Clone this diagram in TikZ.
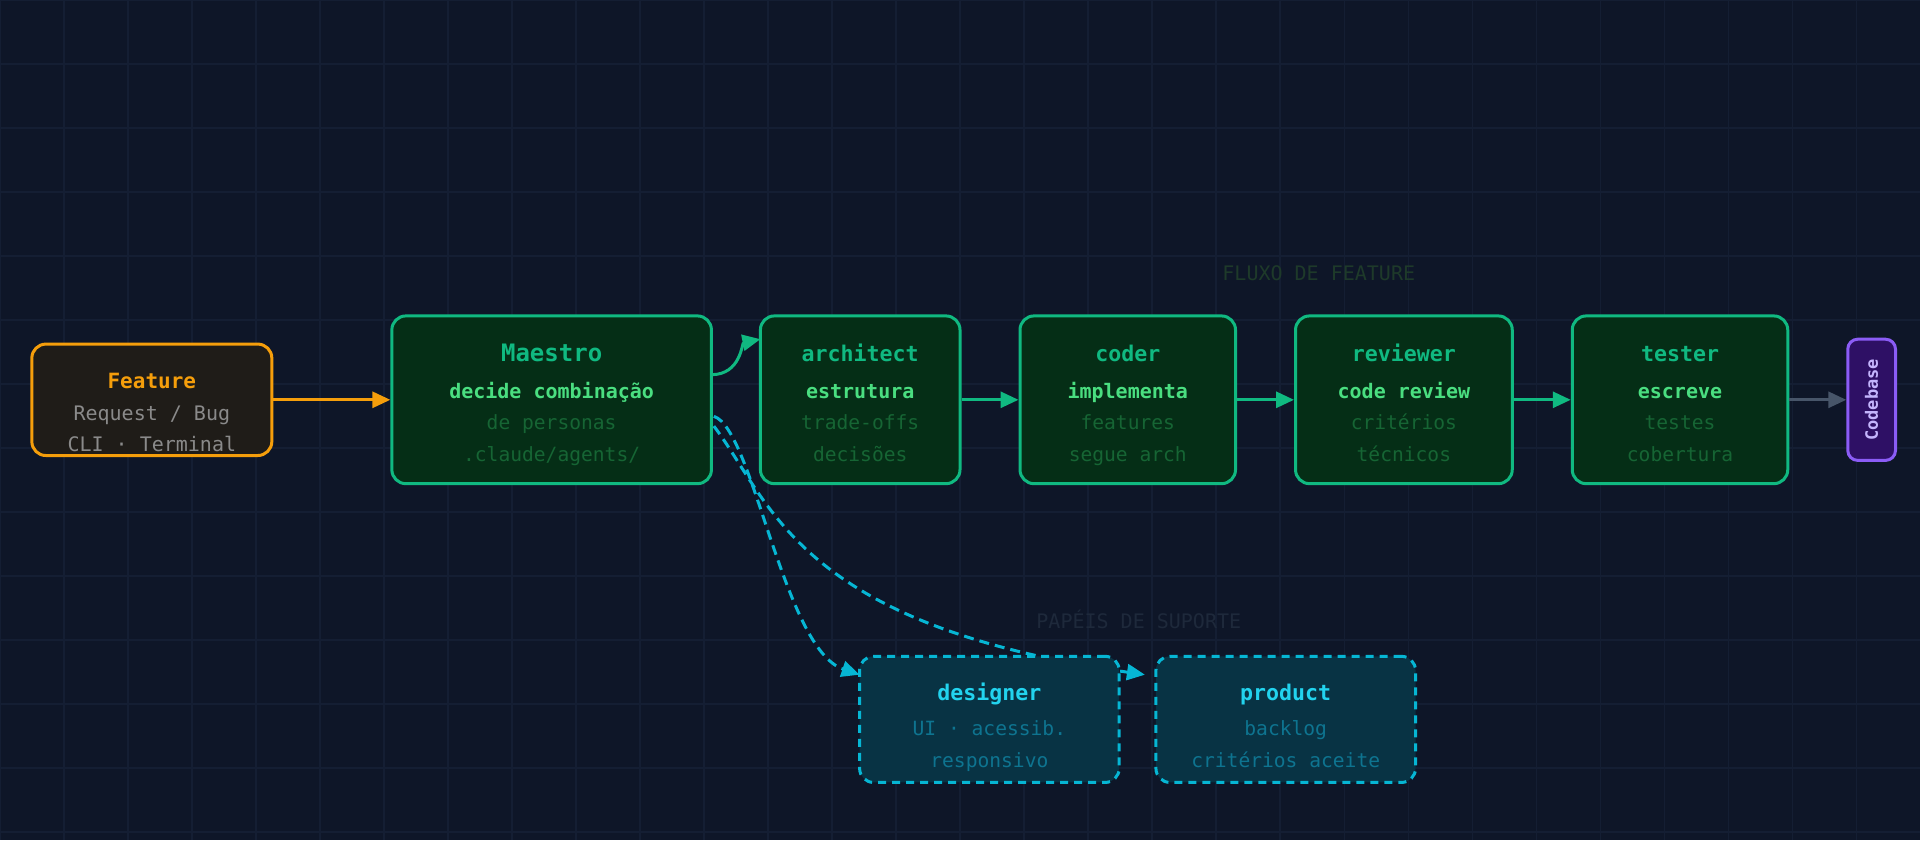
\documentclass[tikz,border=0pt]{standalone}
\usepackage{fontspec}
\setmainfont{DejaVu Sans Mono}
\usetikzlibrary{arrows.meta}
\definecolor{bg}{HTML}{0E1628}
\definecolor{gridc}{HTML}{141E33}
\definecolor{org}{HTML}{F59E0B}
\definecolor{orgfill}{HTML}{1F1C18}
\definecolor{grayt}{HTML}{8A8A8A}
\definecolor{grn}{HTML}{10B981}
\definecolor{grnfill}{HTML}{052E16}
\definecolor{grn2}{HTML}{4ADE80}
\definecolor{grn3}{HTML}{166534}
\definecolor{cy}{HTML}{06B6D4}
\definecolor{cyfill}{HTML}{083344}
\definecolor{cyt}{HTML}{22D3EE}
\definecolor{cy3}{HTML}{0E7490}
\definecolor{pur}{HTML}{8B5CF6}
\definecolor{purfill}{HTML}{2E1065}
\definecolor{purt}{HTML}{C4B5FD}
\definecolor{slate}{HTML}{475569}
\definecolor{lblg}{HTML}{1E3A2A}
\definecolor{lbls}{HTML}{1E293B}
\def\u{0.6122pt}
\tikzset{
 box/.style={rounded corners=7pt, line width=1.5pt, inner sep=0pt},
 gbox/.style={box, draw=grn, fill=grnfill},
 cbox/.style={box, draw=cy, fill=cyfill, dashed, dash pattern=on 4pt off 3pt},
 tx/.style={text height=7pt, text depth=2pt, inner sep=0pt, yshift=-1.2pt},
 ttl/.style={tx, font=\bfseries\fontsize{10.8}{12}\selectfont, text=grn},
 sub/.style={tx, font=\bfseries\fontsize{10}{12}\selectfont, text=grn2},
 dim/.style={tx, font=\fontsize{9.8}{12}\selectfont, text=grn3},
 arr/.style={line width=1.5pt, -{Triangle[length=9pt,width=8pt]}},
 lbl/.style={tx, font=\fontsize{10}{12}\selectfont},
}
\begin{document}
\begin{tikzpicture}[x=\u,y=-\u]
\fill[bg] (0,0) rectangle (1568,686);
\useasboundingbox (0,0) rectangle (1568,686);
\foreach \i in {0,...,30} {\draw[gridc,line width=0.6pt] ({\i*52.27},0) -- ({\i*52.27},686);}
\foreach \i in {0,...,13} {\draw[gridc,line width=0.6pt] (0,{\i*52.27}) -- (1568,{\i*52.27});}

\node[lbl,text=lblg] (lf) at (1077,223) {FLUXO DE FEATURE};
\node[lbl,text=lbls] (ls) at (930,507) {PAPÉIS DE SUPORTE};

% boxes
\node[box,draw=org,fill=orgfill,minimum width={196*\u},minimum height={91*\u}] (feat) at (124,326.5) {};
\node[gbox,minimum width={261*\u},minimum height={137*\u}] (mae) at (450.5,326.5) {};
\node[gbox,minimum width={163*\u},minimum height={137*\u}] (arc) at (702.5,326.5) {};
\node[gbox,minimum width={176*\u},minimum height={137*\u}] (cod) at (921,326.5) {};
\node[gbox,minimum width={177*\u},minimum height={137*\u}] (rev) at (1146.5,326.5) {};
\node[gbox,minimum width={176*\u},minimum height={137*\u}] (tes) at (1372,326.5) {};
\node[box,rounded corners=5pt,draw=pur,fill=purfill,minimum width={39*\u},minimum height={99*\u}] (cb) at (1528.5,326.5) {};
\node[rotate=90,font=\bfseries\fontsize{8.5}{10}\selectfont,text=purt] (cbt) at (cb) {Codebase};

% dashed support connectors (behind support boxes)
\coordinate (d1) at (583,340);
\coordinate (d2) at (583,348);
\draw[cy,line width=1.5pt,dash pattern=on 5pt off 3pt,-{Triangle[length=9pt,width=8pt]}] (d1) .. controls (615,350) and (640,530) .. (702,551);
\draw[cy,line width=1.5pt,dash pattern=on 5pt off 3pt,-{Triangle[length=9pt,width=8pt]}] (d2) .. controls (630,410) and (650,510) .. (935,551);

\node[cbox,minimum width={212*\u},minimum height={103*\u}] (des) at (808,587.5) {};
\node[cbox,minimum width={212*\u},minimum height={103*\u}] (pro) at (1050,587.5) {};

% texts
\node[tx,font=\bfseries\fontsize{10.5}{12}\selectfont,text=org] (t1) at (124,311) {Feature};
\node[lbl,text=grayt] (t2) at (124,337) {Request / Bug};
\node[lbl,text=grayt] (t3) at (124,363) {CLI · Terminal};

\node[ttl,font=\bfseries\fontsize{12}{14}\selectfont] (m1) at (450.5,289) {Maestro};
\node[sub] (m2) at (450.5,319) {decide combinação};
\node[dim] (m3) at (450.5,345) {de personas};
\node[dim] (m4) at (450.5,371) {.claude/agents/};

\node[ttl] (a1) at (702.5,289) {architect};
\node[sub] (a2) at (702.5,319) {estrutura};
\node[dim] (a3) at (702.5,345) {trade-offs};
\node[dim] (a4) at (702.5,371) {decisões};

\node[ttl] (c1) at (921,289) {coder};
\node[sub] (c2) at (921,319) {implementa};
\node[dim] (c3) at (921,345) {features};
\node[dim] (c4) at (921,371) {segue arch};

\node[ttl] (r1) at (1146.5,289) {reviewer};
\node[sub] (r2) at (1146.5,319) {code review};
\node[dim] (r3) at (1146.5,345) {critérios};
\node[dim] (r4) at (1146.5,371) {técnicos};

\node[ttl] (s1) at (1372,289) {tester};
\node[sub] (s2) at (1372,319) {escreve};
\node[dim] (s3) at (1372,345) {testes};
\node[dim] (s4) at (1372,371) {cobertura};

\node[ttl,text=cyt] (e1) at (808,566) {designer};
\node[dim,text=cy3] (e2) at (808,595) {UI · acessib.};
\node[dim,text=cy3] (e3) at (808,621) {responsivo};
\node[ttl,text=cyt] (p1) at (1050,566) {product};
\node[dim,text=cy3] (p2) at (1050,595) {backlog};
\node[dim,text=cy3] (p3) at (1050,621) {critérios aceite};

% connectors
\draw[arr,org] (feat.east) -- (mae.west);
\coordinate (ma) at (581,306);
\coordinate (aa) at (621,277);
\draw[arr,grn] (ma) .. controls (605,306) and (606,280) .. (aa);
\draw[arr,grn] (arc.east) -- (cod.west);
\draw[arr,grn] (cod.east) -- (rev.west);
\draw[arr,grn] (rev.east) -- (tes.west);
\draw[arr,slate] (tes.east) -- (cb.west);
\end{tikzpicture}
\end{document}
